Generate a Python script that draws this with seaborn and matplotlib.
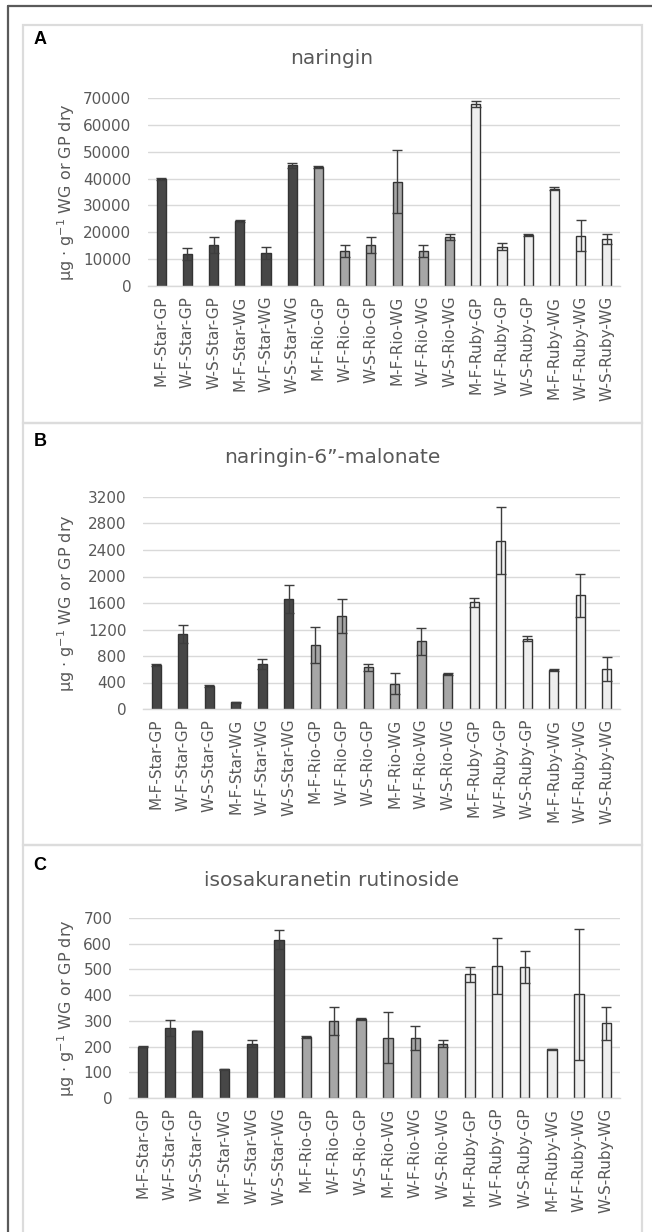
import numpy as np
import pandas as pd
import matplotlib
matplotlib.use("Agg")
import matplotlib.pyplot as plt
import seaborn as sns
from matplotlib.patches import Rectangle
from matplotlib.lines import Line2D

# Sample groups: harvest (M/W), fruit type (F/S), cultivar, tissue (GP / WG)
samples = ["M-F-Star-GP", "W-F-Star-GP", "W-S-Star-GP", "M-F-Star-WG", "W-F-Star-WG", "W-S-Star-WG",
           "M-F-Rio-GP", "W-F-Rio-GP", "W-S-Rio-GP", "M-F-Rio-WG", "W-F-Rio-WG", "W-S-Rio-WG",
           "M-F-Ruby-GP", "W-F-Ruby-GP", "W-S-Ruby-GP", "M-F-Ruby-WG", "W-F-Ruby-WG", "W-S-Ruby-WG"]
cultivar = ["Star"] * 6 + ["Rio"] * 6 + ["Ruby"] * 6

naringin_mean = [39800, 11900, 15300, 24300, 12400, 44900, 44300, 13100, 15300,
                 38900, 13100, 18200, 67800, 14700, 18900, 36300, 18700, 17500]
naringin_sd = [400, 2100, 2900, 400, 2300, 900, 400, 2200, 2900,
               11800, 2200, 1100, 1200, 1200, 400, 500, 5700, 1800]

malonate_mean = [660, 1130, 350, 100, 680, 1660, 970, 1400, 630,
                 380, 1020, 530, 1610, 2540, 1060, 590, 1720, 610]
malonate_sd = [15, 135, 15, 10, 75, 210, 275, 255, 55,
               160, 205, 10, 70, 505, 40, 15, 325, 180]

isosak_mean = [200, 273, 262, 111, 211, 615, 237, 299, 308,
               234, 234, 211, 481, 515, 509, 189, 403, 290]
isosak_sd = [3, 32, 0, 3, 13, 37, 4, 55, 5,
             99, 46, 14, 30, 109, 61, 3, 255, 65]

panel_letters = ["A", "B", "C"]
titles = ["naringin", "naringin-6\u201d-malonate", "isosakuranetin rutinoside"]
ylabel = "\u03bcg \u00b7 g$^{-1}$ WG or GP dry"
ymax = [70000, 3200, 700]
ystep = [10000, 400, 100]

sns.set_style("white")
plt.rcParams["font.family"] = ["DejaVu Sans"]

W, H = 652, 1232
fig = plt.figure(figsize=(W / 100, H / 100), dpi=100)
fig.patch.set_facecolor("white")

def fx(px):
    return px / W

def fy(py):
    return 1 - py / H

palette = {"Star": "#474747", "Rio": "#a6a6a6", "Ruby": "#eeeeee"}
text_col = "#595959"
grid_col = "#d9d9d9"

# (left, top, right, bottom) of each plotting area in pixels
areas = [(148, 98, 620, 286), (143, 497, 620, 709), (129, 918, 620, 1098)]
# panel frames (top, bottom) in pixels
frames = [(25, 423), (423, 845), (845, 1240)]
letter_y = [40, 441, 865]
title_y = [58, 457, 880]

series = [(naringin_mean, naringin_sd), (malonate_mean, malonate_sd), (isosak_mean, isosak_sd)]

for i in range(3):
    top, bot = frames[i]
    fig.patches.append(Rectangle((fx(23), fy(bot)), fx(642) - fx(23), fy(top) - fy(bot),
                                 transform=fig.transFigure, fill=False,
                                 edgecolor="#dcdcdc", linewidth=1.6, zorder=0))
    fig.text(fx(40), fy(letter_y[i]), panel_letters[i], fontsize=13, fontweight="bold",
             ha="center", va="center", color="black", family=["Liberation Sans", "DejaVu Sans"])
    fig.text(fx(332), fy(title_y[i]), titles[i], fontsize=14.5, ha="center", va="center",
             color=text_col)

    l, t, r, b = areas[i]
    ax = fig.add_axes([fx(l), fy(b), fx(r) - fx(l), fy(t) - fy(b)])
    mean, sd = series[i]
    df = pd.DataFrame({"sample": samples, "value": mean, "cultivar": cultivar})
    sns.barplot(data=df, x="sample", y="value", hue="cultivar", order=samples,
                hue_order=["Star", "Rio", "Ruby"], palette=palette, dodge=False,
                width=0.35, edgecolor="#333333", linewidth=1.0, errorbar=None,
                legend=False, ax=ax, zorder=2)
    ax.errorbar(np.arange(len(samples)), mean, yerr=sd, fmt="none", ecolor="#3d3d3d",
                elinewidth=1.0, capsize=3.5, capthick=1.0, zorder=3)

    ax.set_ylim(0, ymax[i])
    ax.set_xlim(-0.5, len(samples) - 0.5)
    ax.set_yticks(np.arange(0, ymax[i] + 1, ystep[i]))
    ax.set_yticklabels([f"{v:d}" for v in np.arange(0, ymax[i] + 1, ystep[i])])
    ax.yaxis.grid(True, color=grid_col, linewidth=1.0, zorder=0)
    ax.set_axisbelow(True)
    for s in ["top", "right", "left"]:
        ax.spines[s].set_visible(False)
    ax.spines["bottom"].set_color(grid_col)
    ax.spines["bottom"].set_linewidth(1.0)
    ax.tick_params(axis="both", length=0, colors=text_col, labelsize=11)
    ax.tick_params(axis="x", rotation=90, pad=7)
    ax.tick_params(axis="y", pad=12)
    ax.set_xlabel("")
    ax.set_ylabel(ylabel, fontsize=11.5, color=text_col)
    ax.yaxis.label.set_va("center")
    ax.yaxis.set_label_coords((66 - l) / (r - l), 0.5)
    ax.set_facecolor("none")

# outer frame: top and left edges
fig.add_artist(Line2D([fx(8), 1], [fy(6), fy(6)], color="#5a5a5a", linewidth=1.6,
                      transform=fig.transFigure))
fig.add_artist(Line2D([fx(8), fx(8)], [fy(6), 0], color="#5a5a5a", linewidth=1.6,
                      transform=fig.transFigure))

fig.savefig("out.png", dpi=100, facecolor="white")
